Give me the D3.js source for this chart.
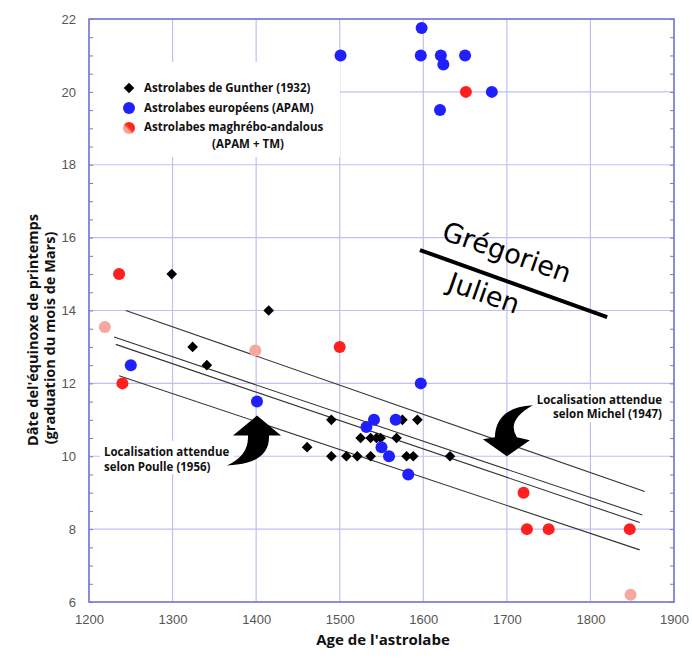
<!DOCTYPE html>
<html><head><meta charset="utf-8">
<script src="https://cdn.jsdelivr.net/npm/d3@7"></script>
<style>body{margin:0;background:#fff}svg{display:block}</style>
</head><body>
<svg id="c" width="692" height="662"></svg>
<script>
const xTicks = [1200,1300,1400,1500,1600,1700,1800,1900];
const yTicks = [6,8,10,12,14,16,18,20,22];
const gunther = [[1299,15],[1324,13],[1341,12.5],[1415,14],[1490,11],[1461,10.25],[1490,10],[1508,10],[1521,10],[1537,10],[1525,10.5],[1537,10.5],[1544,10.5],[1549,10.5],[1568,10.5],[1575,11],[1593,11],[1580,10],[1588,10],[1632,10]];
const europeens = [[1250,12.5],[1401,11.5],[1597,12],[1541,11],[1567,11],[1532,10.8],[1550,10.25],[1559,10],[1582,9.5],[1501,21],[1597,21],[1621,21],[1624,20.75],[1650,21],[1682,20],[1620,19.5],[1598,21.75]];
const maghrebRed = [[1236,15],[1240,12],[1500,13],[1651,20],[1720,9],[1724,8],[1750,8],[1847,8]];
const maghrebPink = [[1219,13.55],[1399,12.9],[1848,6.2]];
const fitLines = [[[1244,14.0],[1865,9.03]],[[1230,13.27],[1862,8.39]],[[1232,13.07],[1859,8.18]],[[1236,12.21],[1859,7.43]]];
const calLine = [[1596,15.66],[1820,13.82]];
const legendLabels = ["Astrolabes de Gunther (1932)","Astrolabes européens (APAM)","Astrolabes maghrébo-andalous","(APAM + TM)"];

const svg = d3.select("#c");
const L=89,T=19,R=674,B=602;
const x = d3.scaleLinear().domain([1200,1900]).range([L,R]);
const y = d3.scaleLinear().domain([6,22]).range([B,T]);
const gridC="#c0c0f0", axC="#7878d8";
const boldF="'Open Sans', 'DejaVu Sans', sans-serif";

// grid
svg.append("g").selectAll("line").data(xTicks).join("line")
  .attr("x1",d=>x(d)).attr("x2",d=>x(d)).attr("y1",T).attr("y2",B)
  .attr("stroke",gridC).attr("stroke-width",1.2);
svg.append("g").selectAll("line").data(yTicks).join("line")
  .attr("y1",d=>y(d)).attr("y2",d=>y(d)).attr("x1",L).attr("x2",R)
  .attr("stroke",gridC).attr("stroke-width",1.2);

// white boxes behind annotations
svg.append("rect").attr("x",L+1).attr("y",62).attr("width",250).attr("height",95).attr("fill","#fff");
svg.append("rect").attr("x",100).attr("y",441).attr("width",134).attr("height",33).attr("fill","#fff");
svg.append("rect").attr("x",528).attr("y",390).attr("width",137).attr("height",32).attr("fill","#fff");

// axes
const minor = d3.range(6,22.01,0.5);
svg.append("g").attr("transform",`translate(${L},0)`)
  .call(d3.axisLeft(y).tickValues(minor).tickSize(-4).tickFormat(""))
  .call(g=>{g.select(".domain").remove();g.selectAll("line").attr("stroke",axC);});
svg.append("g").attr("transform",`translate(${R},0)`)
  .call(d3.axisRight(y).tickValues(minor).tickSize(-4).tickFormat(""))
  .call(g=>{g.select(".domain").remove();g.selectAll("line").attr("stroke",axC);});
svg.append("g").attr("transform",`translate(${L-10},0)`)
  .call(d3.axisLeft(y).tickValues(yTicks).tickSize(0).tickFormat(d3.format("d")))
  .call(g=>{g.select(".domain").remove();g.selectAll("text").attr("fill","#555").attr("font-size",13).attr("font-family","'Liberation Sans', Arial, sans-serif");});
svg.append("g").attr("transform",`translate(0,${B+10})`)
  .call(d3.axisBottom(x).tickValues(xTicks).tickSize(0).tickFormat(d3.format("d")))
  .call(g=>{g.select(".domain").remove();g.selectAll("text").attr("fill","#555").attr("font-size",13).attr("font-family","'Liberation Sans', Arial, sans-serif");});
svg.append("rect").attr("x",L).attr("y",T).attr("width",R-L).attr("height",B-T)
  .attr("fill","none").attr("stroke",axC).attr("stroke-width",1.6);

// fit lines
const line = d3.line().x(d=>x(d[0])).y(d=>y(d[1]));
svg.append("g").selectAll("path").data(fitLines).join("path")
  .attr("d",line).attr("fill","none").attr("stroke","#333").attr("stroke-width",1.1);
svg.append("path").attr("d",line(calLine)).attr("stroke","#000").attr("stroke-width",4).attr("fill","none");

const ang = Math.atan2(y(calLine[1][1])-y(calLine[0][1]), x(calLine[1][0])-x(calLine[0][0]))*180/Math.PI;
svg.append("text").attr("transform",`translate(507,252) rotate(${ang-0.5})`).attr("text-anchor","middle")
  .attr("dominant-baseline","central").attr("font-family","'DejaVu Sans', sans-serif").attr("font-size",27).text("Grégorien");
svg.append("text").attr("transform",`translate(484,293) rotate(${ang-0.5})`).attr("text-anchor","middle")
  .attr("dominant-baseline","central").attr("font-family","'DejaVu Sans', sans-serif").attr("font-size",27).text("Julien");

// points
const defs = svg.append("defs");
const gr = defs.append("linearGradient").attr("id","lg").attr("x1","0").attr("y1","1").attr("x2","1").attr("y2","0");
gr.append("stop").attr("offset","0").attr("stop-color","#f6a59c");
gr.append("stop").attr("offset","0.35").attr("stop-color","#f6a59c");
gr.append("stop").attr("offset","0.55").attr("stop-color","#ff2a1a");
gr.append("stop").attr("offset","1").attr("stop-color","#ff1a1a");

const diamond = d3.symbol().type(d3.symbolDiamond2 || d3.symbolDiamond).size(72);
svg.append("g").selectAll("circle").data(maghrebPink).join("circle")
  .attr("cx",d=>x(d[0])).attr("cy",d=>y(d[1])).attr("r",6).attr("fill","#f6a89e");
svg.append("g").selectAll("path").data(gunther).join("path")
  .attr("transform",d=>`translate(${x(d[0])},${y(d[1])})`).attr("d",diamond).attr("fill","#000");
svg.append("g").selectAll("circle").data(europeens).join("circle")
  .attr("cx",d=>x(d[0])).attr("cy",d=>y(d[1])).attr("r",6).attr("fill","#1f1fff");
svg.append("g").selectAll("circle").data(maghrebRed).join("circle")
  .attr("cx",d=>x(d[0])).attr("cy",d=>y(d[1])).attr("r",6).attr("fill","#ff1f1f");

// legend
const lg = svg.append("g").attr("font-family",boldF).attr("font-weight","bold").attr("font-size",11.5).attr("fill","#111");
lg.append("path").attr("transform","translate(129,88)").attr("d",diamond).attr("fill","#000");
lg.append("circle").attr("cx",129).attr("cy",108).attr("r",6).attr("fill","#1f1fff");
lg.append("circle").attr("cx",129).attr("cy",128).attr("r",6).attr("fill","url(#lg)");
lg.append("text").attr("x",144).attr("y",92).text(legendLabels[0]);
lg.append("text").attr("x",144).attr("y",112).text(legendLabels[1]);
lg.append("text").attr("x",144).attr("y",131).text(legendLabels[2]);
lg.append("text").attr("x",248).attr("y",148).attr("text-anchor","middle").text(legendLabels[3]);

// annotations
const an = svg.append("g").attr("font-family",boldF).attr("font-weight","bold").attr("font-size",11.5).attr("fill","#111");
an.append("text").attr("x",104).attr("y",456).text("Localisation attendue");
an.append("text").attr("x",104).attr("y",471).text("selon Poulle (1956)");
an.append("text").attr("x",662).attr("y",404).attr("text-anchor","end").text("Localisation attendue");
an.append("text").attr("x",662).attr("y",418).attr("text-anchor","end").text("selon Michel (1947)");

// arrows (anchored at data points)
const pTip=[x(1401),y(11.5)+14], mTip=[x(1700),y(10)];
svg.append("path").attr("transform",`translate(${pTip[0]},${pTip[1]})`)
  .attr("d","M0,0 L24,20 L12,20 Q13,45 -20,49 Q-30,50 -30,50 Q-8,40 -9,20 L-24,20 Z").attr("fill","#000");
svg.append("path").attr("transform",`translate(${mTip[0]},${mTip[1]})`)
  .attr("d","M0,0 L-24,-17 L-12,-19 Q-11,-49 26,-51 Q-1,-36 10,-19 L23,-16 Z").attr("fill","#000");

// axis titles
svg.append("text").attr("x",383).attr("y",645).attr("text-anchor","middle").attr("font-family",boldF)
  .attr("font-weight","bold").attr("font-size",15).attr("fill","#111").text("Age de l'astrolabe");
svg.append("text").attr("transform","translate(38,330) rotate(-90)").attr("text-anchor","middle").attr("font-family",boldF)
  .attr("font-weight","bold").attr("font-size",14.5).attr("fill","#111").text("Dâte del'équinoxe de printemps");
svg.append("text").attr("transform","translate(55,338) rotate(-90)").attr("text-anchor","middle").attr("font-family",boldF)
  .attr("font-weight","bold").attr("font-size",14.5).attr("fill","#111").text("(graduation du mois de Mars)");
</script>
</body></html>
